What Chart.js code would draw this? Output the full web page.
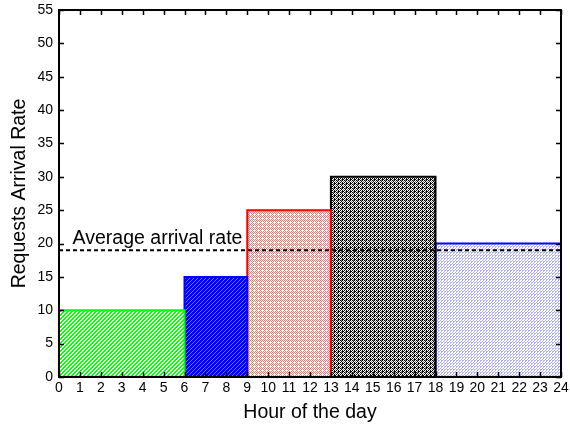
<!DOCTYPE html>
<html>
<head>
<meta charset="utf-8">
<script src="https://cdn.jsdelivr.net/npm/chart.js@4.4.0/dist/chart.umd.min.js"></script>
<style>
  body { margin: 0; background: #fff; }
  #wrap { width: 570px; height: 428px; }
</style>
</head>
<body>
<div id="wrap"><canvas id="chart" width="570" height="428"></canvas></div>
<script>
// hours of the day where each period starts / ends, and the rate in that period
var periodStart = [0, 6, 9, 13, 18];
var periodEnd = [6, 9, 13, 18, 24];
var arrivalRate = [10, 15, 25, 30, 20];
var averageRate = 19;
var hourTicks = [0,1,2,3,4,5,6,7,8,9,10,11,12,13,14,15,16,17,18,19,20,21,22,23,24];
var rateTicks = [0,5,10,15,20,25,30,35,40,45,50,55];

var edgeColors = ['#00ff00', '#0000ff', '#ff0000', '#000000', '#0000ff'];
var FONT = '"Liberation Sans", Arial, sans-serif';

// little fill patterns like the hatches of the original figure
function makePattern(size, bg, cells) {
  var c = document.createElement('canvas');
  c.width = size; c.height = size;
  var g = c.getContext('2d');
  g.fillStyle = bg;
  g.fillRect(0, 0, size, size);
  cells.forEach(function (p) {
    g.fillStyle = p[2];
    g.fillRect(p[0], p[1], 1, 1);
  });
  return g.createPattern(c, 'repeat');
}

var G = '#00ff00', B = '#0000ff', LB = '#7070ff', R = '#ff7070', K = '#000000', GR = '#888888', DB = '#b0b0ff';
var patterns = [
  // green "/" stripes
  makePattern(4, '#ffffff', [[3,0,G],[2,1,G],[1,2,G],[0,3,G],[2,0,G],[1,1,G],[0,2,G],[3,3,G]]),
  // dense blue "/" lines
  makePattern(4, B, [[3,0,LB],[2,1,LB],[1,2,LB],[0,3,LB]]),
  // light red cross hatch
  makePattern(4, '#ffffff', [[0,0,R],[2,0,R],[1,1,R],[3,1,R],[0,2,R],[1,3,R],[3,3,R]]),
  // dark checker
  makePattern(4, '#ffffff', [[0,0,K],[2,0,K],[1,1,K],[3,1,GR],[0,2,K],[2,2,K],[1,3,GR],[3,3,K],[1,0,GR],[2,3,K]]),
  // light blue dots
  makePattern(3, '#ffffff', [[0,0,DB],[1,0,DB],[0,1,DB],[2,2,DB]])
];

var datasets = [];
for (var i = 0; i < arrivalRate.length; i++) {
  datasets.push({
    data: [
      { x: periodStart[i], y: 0 },
      { x: periodStart[i], y: arrivalRate[i] },
      { x: periodEnd[i], y: arrivalRate[i] },
      { x: periodEnd[i], y: 0 }
    ],
    borderColor: edgeColors[i],
    backgroundColor: patterns[i],
    borderWidth: 2,
    fill: 'origin',
    pointRadius: 0,
    tension: 0,
    order: 2
  });
}
datasets.push({
  data: [{ x: hourTicks[0], y: averageRate }, { x: hourTicks[hourTicks.length - 1], y: averageRate }],
  borderColor: '#000',
  borderWidth: 2,
  borderDash: [4, 3],
  pointRadius: 0,
  fill: false,
  order: 1
});

// box with inward ticks on all four sides, plus the label of the average line
var boxPlugin = {
  id: 'box',
  afterDraw: function (chart) {
    var ctx = chart.ctx, a = chart.chartArea;
    var xs = chart.scales.x, ys = chart.scales.y;
    ctx.save();
    ctx.strokeStyle = '#000';
    ctx.lineWidth = 2;
    ctx.strokeRect(a.left, a.top, a.right - a.left, a.bottom - a.top);
    ctx.lineWidth = 1.5;
    ctx.beginPath();
    hourTicks.forEach(function (h) {
      var px = Math.round(xs.getPixelForValue(h)) + 0.5;
      ctx.moveTo(px, a.bottom); ctx.lineTo(px, a.bottom - 5);
      ctx.moveTo(px, a.top); ctx.lineTo(px, a.top + 5);
    });
    rateTicks.forEach(function (v) {
      var py = Math.round(ys.getPixelForValue(v)) + 0.5;
      ctx.moveTo(a.left, py); ctx.lineTo(a.left + 5, py);
      ctx.moveTo(a.right, py); ctx.lineTo(a.right - 5, py);
    });
    ctx.stroke();
    ctx.fillStyle = '#000';
    ctx.font = '19.5px ' + FONT;
    ctx.textBaseline = 'bottom';
    ctx.fillText('Average arrival rate', xs.getPixelForValue(0.65), ys.getPixelForValue(averageRate) - 2);
    ctx.restore();
  }
};

new Chart(document.getElementById('chart'), {
  type: 'line',
  data: { datasets: datasets },
  plugins: [boxPlugin],
  options: {
    responsive: false,
    animation: false,
    layout: { padding: { top: 10, right: 9, left: 0, bottom: 0 } },
    plugins: { legend: { display: false }, tooltip: { enabled: false } },
    scales: {
      x: {
        type: 'linear',
        min: 0, max: 24,
        afterBuildTicks: function (s) { s.ticks = hourTicks.map(function (v) { return { value: v }; }); },
        afterFit: function (s) { s.height = 51; s.paddingLeft = 0; s.paddingRight = 0; },
        grid: { display: false, drawTicks: false },
        border: { display: false },
        ticks: { autoSkip: false, maxRotation: 0, padding: 3, color: '#000', font: { family: FONT, size: 14 } },
        title: { display: true, text: 'Hour of the day', color: '#000', padding: { top: 4 }, font: { family: FONT, size: 19.5 } }
      },
      y: {
        min: 0, max: 55,
        afterBuildTicks: function (s) { s.ticks = rateTicks.map(function (v) { return { value: v }; }); },
        afterFit: function (s) { s.width = 59; s.paddingTop = 0; s.paddingBottom = 0; },
        grid: { display: false, drawTicks: false },
        border: { display: false },
        ticks: { padding: 6, color: '#000', font: { family: FONT, size: 14 } },
        title: { display: true, text: 'Requests Arrival Rate', color: '#000', padding: { top: 8, bottom: 0 }, font: { family: FONT, size: 19.5 } }
      }
    }
  }
});
</script>
</body>
</html>
